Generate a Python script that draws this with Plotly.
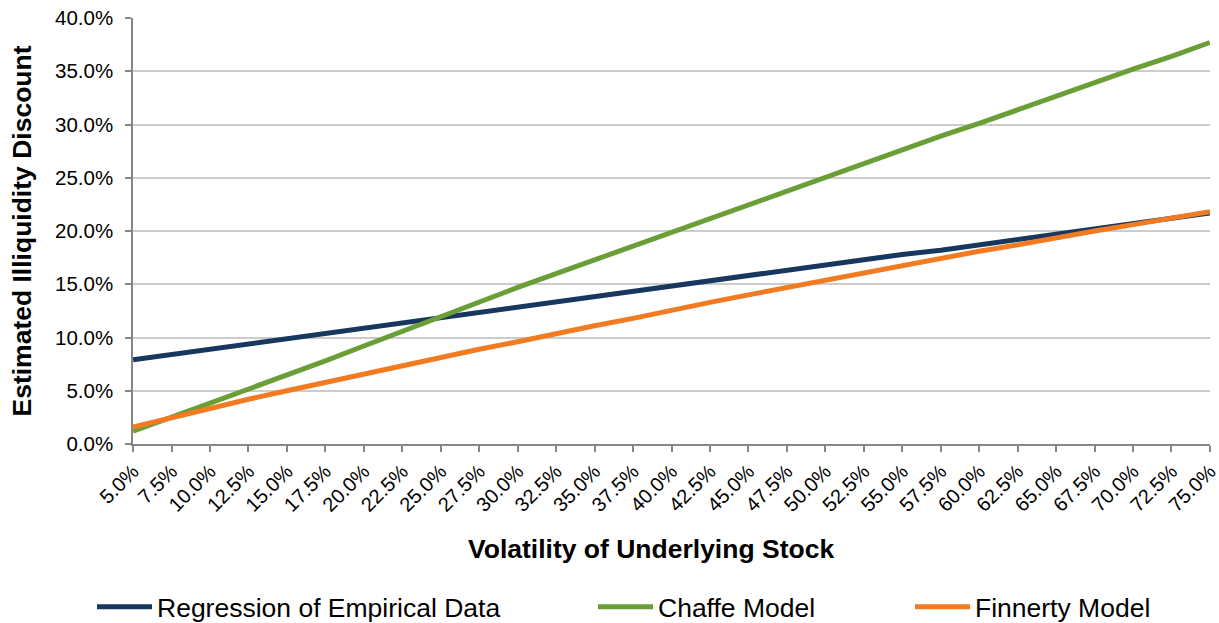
import plotly.graph_objects as go

# ---- data ----
volatility = [5.0, 7.5, 10.0, 12.5, 15.0, 17.5, 20.0, 22.5, 25.0, 27.5,
              30.0, 32.5, 35.0, 37.5, 40.0, 42.5, 45.0, 47.5, 50.0, 52.5,
              55.0, 57.5, 60.0, 62.5, 65.0, 67.5, 70.0, 72.5, 75.0]
x_tick_labels = ["5.0%", "7.5%", "10.0%", "12.5%", "15.0%", "17.5%", "20.0%",
                 "22.5%", "25.0%", "27.5%", "30.0%", "32.5%", "35.0%", "37.5%",
                 "40.0%", "42.5%", "45.0%", "47.5%", "50.0%", "52.5%", "55.0%",
                 "57.5%", "60.0%", "62.5%", "65.0%", "67.5%", "70.0%", "72.5%",
                 "75.0%"]
regression = [7.9, 8.4, 8.9, 9.4, 9.9, 10.4, 10.9, 11.3, 11.8, 12.3,
              12.8, 13.3, 13.8, 14.3, 14.8, 15.3, 15.8, 16.3, 16.8, 17.3,
              17.8, 18.2, 18.7, 19.2, 19.7, 20.2, 20.7, 21.2, 21.7]
chaffe = [1.2, 2.5, 3.8, 5.1, 6.4, 7.8, 9.2, 10.6, 12.0, 13.4,
          14.7, 16.0, 17.3, 18.6, 19.9, 21.2, 22.5, 23.8, 25.1, 26.3,
          27.6, 28.9, 30.1, 31.4, 32.6, 33.9, 35.2, 36.4, 37.7]
finnerty = [1.6, 2.5, 3.4, 4.2, 5.0, 5.8, 6.6, 7.4, 8.1, 8.9,
            9.6, 10.4, 11.1, 11.8, 12.6, 13.3, 14.0, 14.7, 15.4, 16.1,
            16.8, 17.4, 18.1, 18.7, 19.4, 20.0, 20.6, 21.2, 21.8]
y_tick_vals = [0, 5, 10, 15, 20, 25, 30, 35, 40]
y_tick_labels = ["0.0%", "5.0%", "10.0%", "15.0%", "20.0%", "25.0%",
                 "30.0%", "35.0%", "40.0%"]
series_names = ["Regression of Empirical Data", "Chaffe Model", "Finnerty Model"]
series_colors = ["#17375E", "#6A9E37", "#F27A21"]

FONT = "Liberation Sans, Arial, sans-serif"
W, H = 1219, 623

fig = go.Figure()
for i, (name, vals, col) in enumerate(zip(series_names, [regression, chaffe, finnerty], series_colors)):
    fig.add_trace(go.Scatter(
        x=volatility, y=vals, mode="lines", name=name,
        line=dict(color=col, width=5),
        legend="legend" if i == 0 else f"legend{i+1}",
    ))

legend_x_px = [92, 593, 910]
legend_common = dict(
    orientation="h", xref="container", yref="container",
    yanchor="middle", xanchor="left", y=(H - 607) / H,
    font=dict(family=FONT, size=26.5, color="#000000"),
    bgcolor="rgba(0,0,0,0)", itemwidth=55, tracegroupgap=0,
)
fig.update_layout(
    legend=dict(x=legend_x_px[0] / W, **legend_common),
    legend2=dict(x=legend_x_px[1] / W, **legend_common),
    legend3=dict(x=legend_x_px[2] / W, **legend_common),
)

fig.update_layout(
    width=W, height=H,
    margin=dict(l=133, r=8.5, t=18, b=179, pad=0, autoexpand=False),
    paper_bgcolor="white", plot_bgcolor="white",
    font=dict(family=FONT, color="#000000"),
    showlegend=True,
    xaxis=dict(
        range=[volatility[0] - 0.005, volatility[-1] + 0.005],
        tickmode="array", tickvals=volatility, ticktext=x_tick_labels,
        tickangle=-45, tickfont=dict(family=FONT, size=20, color="#000000"),
        ticklabeloverflow="allow", automargin=False,
        showgrid=False, zeroline=False,
        showline=True, linecolor="#868686", linewidth=1.5,
        ticks="outside", ticklen=6, tickcolor="#868686", tickwidth=1.5,
    ),
    yaxis=dict(
        range=[0, 40], automargin=False,
        tickmode="array", tickvals=y_tick_vals, ticktext=y_tick_labels,
        tickfont=dict(family=FONT, size=20.5, color="#000000"),
        showgrid=True, gridcolor="#CCCCCC", gridwidth=1.5,
        zeroline=False,
        showline=True, linecolor="#868686", linewidth=1.5,
        ticks="outside", ticklen=6, tickcolor="#868686", tickwidth=1.5,
        ticklabelstandoff=8,
        title=dict(text="<b>Estimated Illiquidity Discount</b>",
                   font=dict(family=FONT, size=26.5, color="#000000"), standoff=16),
    ),
    annotations=[dict(
        text="<b>Volatility of Underlying Stock</b>",
        xref="paper", yref="paper", x=(651 - 133) / 1077.5, y=(H - 179 - 549) / (H - 18 - 179),
        xanchor="center", yanchor="middle", showarrow=False,
        font=dict(family=FONT, size=26.5, color="#000000"),
    )],
)

fig.write_html("out.html")
